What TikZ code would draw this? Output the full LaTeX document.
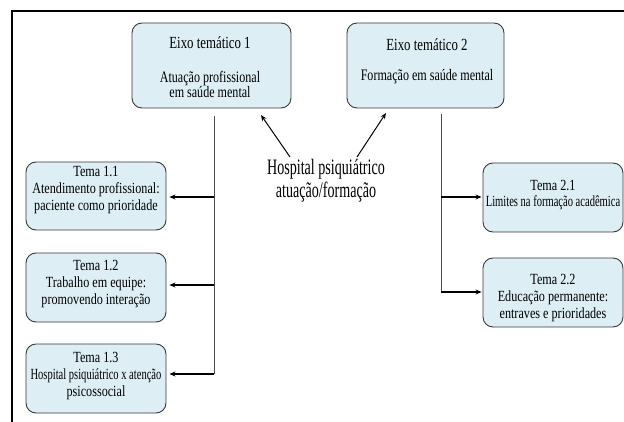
\documentclass[tikz,border=0pt]{standalone}
\usepackage{fontspec}
\setmainfont{Liberation Serif}
\newfontfamily\fTitle{Liberation Serif}[FakeStretch=0.755]
\newfontfamily\fSub{Liberation Serif}[FakeStretch=0.755]
\newfontfamily\fTema{Liberation Serif}[FakeStretch=0.785]
\newfontfamily\fTemaN{Liberation Serif}[FakeStretch=0.68]
\newfontfamily\fHosp{Liberation Serif}[FakeStretch=0.64]
\usetikzlibrary{arrows.meta}
\definecolor{boxfill}{HTML}{DDEEF4}
\definecolor{boxdraw}{HTML}{3A3A3A}
\tikzset{
  themebox/.style={draw=boxdraw, line width=0.9pt, fill=boxfill, rounded corners=10pt, inner sep=0pt},
  ttl/.style={font=\fTitle\fontsize{17}{18}\selectfont, inner sep=0pt},
  sub/.style={font=\fSub\fontsize{16}{15}\selectfont, align=center, inner sep=0pt},
  tema/.style={font=\fTema\fontsize{15.5}{16.7}\selectfont, align=center, inner sep=0pt},
  hosp/.style={font=\fHosp\fontsize{22}{23}\selectfont, align=center, inner sep=0pt},
  thin/.style={draw=black!70, line width=0.7pt},
  thickarrow/.style={draw=black, line width=1.5pt, -{Stealth[length=6pt,width=5pt]}},
  diagarrow/.style={draw=black, line width=1pt, -{Stealth[length=6pt,width=5pt]}},
  frameline/.style={draw=black, line width=1.2pt}
}
\begin{document}
\begin{tikzpicture}[x=1pt,y=-1pt]
\useasboundingbox (0,0) rectangle (624,422);
% frame
\coordinate (fTL) at (12,11);
\coordinate (fTR) at (624,11);
\coordinate (fBL) at (12,422);
\draw[frameline] (fTR) -- (fTL) -- (fBL);

% main boxes
\node[themebox, minimum width=159pt, minimum height=85pt] (e1) at (211.5,65.5) {};
\node[ttl] (e1t) at (210,43) {Eixo temático 1};
\node[sub] (e1s) at (210,84) {Atuação profissional\\em saúde mental};

\node[themebox, minimum width=157pt, minimum height=85pt] (e2) at (425.5,65.5) {};
\node[ttl] (e2t) at (427,45) {Eixo temático 2};
\node[sub] (e2s) at (427,77) {Formação em saúde mental};

% left themes
\node[themebox, minimum width=140pt, minimum height=68pt] (t11) at (96,196) {};
\node[tema] (t11t) at (96,190) {Tema 1.1\\Atendimento profissional:\\paciente como prioridade};
\node[themebox, minimum width=140pt, minimum height=69pt] (t12) at (96,287.5) {};
\node[tema] (t12t) at (96,284) {Tema 1.2\\Trabalho em equipe:\\promovendo interação};
\node[themebox, minimum width=140pt, minimum height=69pt] (t13) at (96,378.5) {};
\node[tema] (t13t) at (96,376) {Tema 1.3\\{\fTemaN Hospital psiquiátrico x atenção}\\psicossocial};

% right themes
\node[themebox, minimum width=140pt, minimum height=69pt] (t21) at (553,197.5) {};
\node[tema] (t21t) at (553,195) {Tema 2.1\\{\fTemaN Limites na formação acadêmica}};
\node[themebox, minimum width=140pt, minimum height=69pt] (t22) at (553,292.5) {};
\node[tema] (t22t) at (553,298) {Tema 2.2\\Educação permanente:\\entraves e prioridades};

% hospital text
\node[hosp] (hosp) at (326,181) {Hospital psiquiátrico\\atuação/formação};

% left tree
\coordinate (l0) at (214,116);
\coordinate (l1) at (214,197);
\coordinate (l2) at (214,285);
\coordinate (l3) at (214,374);
\draw[thin] (l0) -- (l3);
\draw[thickarrow, shorten >=3pt] (l1) -- (t11.east |- l1);
\draw[thickarrow, shorten >=3pt] (l2) -- (t12.east |- l2);
\draw[thickarrow, shorten >=3pt] (l3) -- (t13.east |- l3);

% right tree
\coordinate (r0) at (441,114);
\coordinate (r1) at (441,197);
\coordinate (r2) at (441,292);
\draw[thin] (r0) -- (r2);
\draw[thickarrow, shorten >=1pt] (r1) -- (t21.west |- r1);
\draw[thickarrow, shorten >=1pt] (r2) -- (t22.west |- r2);

% hospital arrows
\coordinate (ha) at (290,157);
\coordinate (hat) at (261,115);
\coordinate (hb) at (357,157);
\coordinate (hbt) at (386,113);
\draw[diagarrow] (ha) -- (hat);
\draw[diagarrow] (hb) -- (hbt);
\end{tikzpicture}
\end{document}
